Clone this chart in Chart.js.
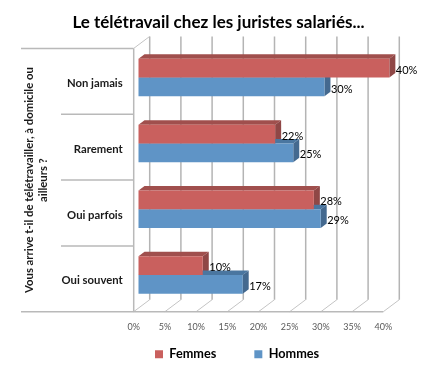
<!DOCTYPE html>
<html>
<head>
<meta charset="utf-8">
<style>body { margin: 0; background: #fff; }</style>
<script src="https://cdn.jsdelivr.net/npm/chart.js@4"></script>
</head>
<body>
<canvas id="chartArea" width="437" height="369"></canvas>
<script>
const categories = ['Non jamais', 'Rarement', 'Oui parfois', 'Oui souvent'];
const femmes = [40.2, 21.9, 28.1, 10.3];
const hommes = [29.8, 24.8, 29.2, 16.7];
const seriesNames = ['Femmes', 'Hommes'];
const chartTitle = 'Le télétravail chez les juristes salariés...';
const axisTitle = ['Vous arrive t-il de télétravailler, à domicile ou', 'ailleurs ?'];

const fontName = 'Lato, "Open Sans", sans-serif';
const wall = { dx: 16, dy: 12 };         // depth of the back wall
const barShift = { dx: 4.8, dy: 3.7 };   // bars sit a bit inside the box
const barDepth = { dx: 6, dy: 4.5 };
const faces = [
    { front: '#c9605e', top: '#a04f4d', side: '#8f4746' },
    { front: '#5f94c6', top: '#4a76a0', side: '#44698f' }
];

function line(ctx, x1, y1, x2, y2) {
    ctx.beginPath();
    ctx.moveTo(x1, y1);
    ctx.lineTo(x2, y2);
    ctx.stroke();
}

function poly(ctx, color, pts) {
    ctx.fillStyle = color;
    ctx.beginPath();
    pts.forEach((p, i) => i ? ctx.lineTo(p[0], p[1]) : ctx.moveTo(p[0], p[1]));
    ctx.closePath();
    ctx.fill();
}

const box3d = {
    id: 'box3d',
    beforeDraw(chart) {
        // legend sits under the axis labels, layout would not allow it
        chart.legend.left = 117;
        chart.legend.top = 310;
        // title is centred on the whole canvas, not on the padded box
        chart.titleBlock.right = chart.width;
    },
    beforeDatasetsDraw(chart) {
        const { ctx, chartArea: a, scales } = chart;
        ctx.save();

        // back wall and floor
        scales.x.ticks.forEach(t => {
            const x = scales.x.getPixelForValue(t.value);
            ctx.strokeStyle = '#b4b4b4';
            ctx.lineWidth = 1.5;
            line(ctx, x + wall.dx, a.top - wall.dy, x + wall.dx, a.bottom - wall.dy);
            ctx.strokeStyle = '#c4c4c4';
            ctx.lineWidth = 1;
            line(ctx, x, a.bottom, x + wall.dx, a.bottom - wall.dy);
        });
        line(ctx, a.left, a.top, a.left + wall.dx, a.top - wall.dy);

        // front frame and category separators
        ctx.strokeStyle = '#b9b9b9';
        ctx.lineWidth = 1.5;
        line(ctx, a.left, a.top, a.left, a.bottom);
        line(ctx, 21, a.bottom, a.right, a.bottom);
        line(ctx, 21, a.top, a.left, a.top);
        for (let i = 1; i < categories.length; i++) {
            const y = a.top + i * a.height / categories.length;
            line(ctx, 61, y, a.left, y);
        }
        ctx.restore();

        // bars are moved as a whole, top and side faces go under the fronts
        ctx.save();
        ctx.translate(barShift.dx, -barShift.dy);
        chart.data.datasets.forEach((ds, d) => {
            chart.getDatasetMeta(d).data.forEach(el => {
                const yt = el.y - el.height / 2;
                const yb = el.y + el.height / 2;
                const c = faces[d];
                poly(ctx, c.top, [[el.base, yt], [el.base + barDepth.dx, yt - barDepth.dy],
                    [el.x + barDepth.dx, yt - barDepth.dy], [el.x, yt]]);
                poly(ctx, c.side, [[el.x, yt], [el.x + barDepth.dx, yt - barDepth.dy],
                    [el.x + barDepth.dx, yb - barDepth.dy], [el.x, yb]]);
            });
        });
    },
    afterDatasetsDraw(chart) {
        const { ctx } = chart;
        ctx.fillStyle = '#000';
        ctx.font = '11px ' + fontName;
        ctx.textAlign = 'left';
        ctx.textBaseline = 'middle';
        chart.data.datasets.forEach((ds, d) => {
            chart.getDatasetMeta(d).data.forEach((el, i) => {
                ctx.fillText(Math.round(ds.data[i]) + '%', el.x + 6.5, el.y + 2);
            });
        });
        ctx.restore();
    }
};

new Chart(document.getElementById('chartArea').getContext('2d'), {
    type: 'bar',
    data: {
        labels: categories,
        datasets: [
            { label: seriesNames[0], data: femmes, backgroundColor: faces[0].front, clip: false },
            { label: seriesNames[1], data: hommes, backgroundColor: faces[1].front, clip: false }
        ]
    },
    plugins: [box3d],
    options: {
        indexAxis: 'y',
        responsive: false,
        animation: false,
        layout: { padding: { right: 53.7 } },
        datasets: { bar: { barPercentage: 1, categoryPercentage: 0.57 } },
        scales: {
            x: {
                min: 0,
                max: 40,
                grid: { display: false },
                border: { display: false },
                ticks: {
                    stepSize: 5,
                    maxRotation: 0,
                    padding: 2,
                    color: '#595959',
                    font: { family: fontName, size: 9 },
                    callback: v => v + '%'
                },
                afterFit(s) { s.height = 56.3; }
            },
            y: {
                grid: { display: false, drawTicks: false },
                border: { display: false },
                ticks: {
                    padding: 11,
                    labelOffset: 2,
                    color: '#1a1a1a',
                    font: { family: fontName, size: 11.3, weight: 'bold' }
                },
                title: {
                    display: true,
                    text: axisTitle,
                    color: '#1a1a1a',
                    font: { family: fontName, size: 11.3, weight: 'bold', lineHeight: 1.24 },
                    padding: { top: 22, bottom: 0 }
                },
                afterFit(s) { s.width = 133.7; }
            }
        },
        plugins: {
            title: {
                display: true,
                text: chartTitle,
                color: '#000',
                font: { family: fontName, size: 17, weight: 'bold' },
                padding: { top: 12, bottom: 16 }
            },
            legend: {
                position: 'bottom',
                align: 'start',
                maxHeight: 1,
                labels: {
                    boxWidth: 8,
                    boxHeight: 8,
                    padding: 38,
                    color: '#000',
                    font: { family: fontName, size: 12.7, weight: 'bold' }
                }
            },
            tooltip: { enabled: false }
        }
    }
});
</script>
</body>
</html>
